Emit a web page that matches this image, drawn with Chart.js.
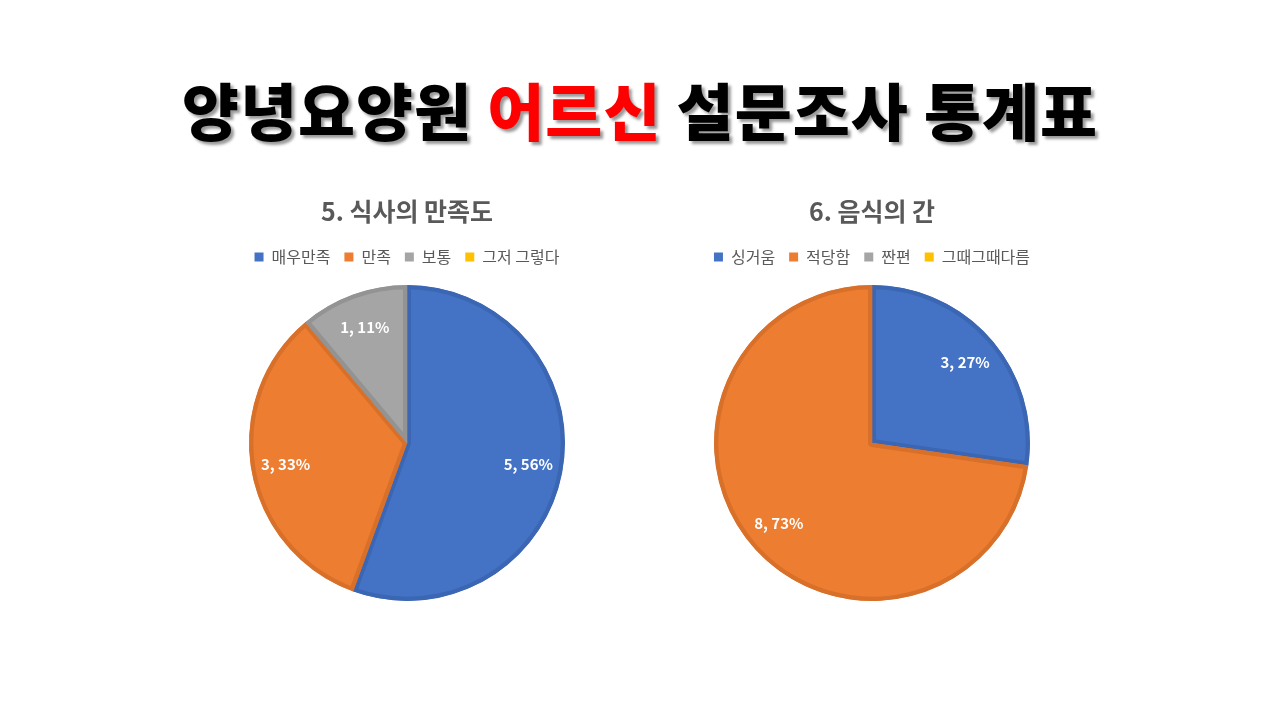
<!DOCTYPE html>
<html>
<head>
<meta charset="utf-8">
<script src="https://cdn.jsdelivr.net/npm/chart.js@4.4.1/dist/chart.umd.min.js"></script>
<style>
  body { margin: 0; width: 1280px; height: 720px; background: #fff; position: relative; overflow: hidden; }
  #title {
    position: absolute; left: 0; top: 64px; width: 1280px; text-align: center;
    font-family: "Noto Sans CJK KR", sans-serif; font-weight: 900; font-size: 62px;
    color: #000; text-shadow: 3px 3px 3px #999; letter-spacing: 1px;
  }
  #title span { color: #ff0000; }
  .box { position: absolute; top: 190px; width: 440px; height: 411px; }
</style>
</head>
<body>
<div id="title">양녕요양원 <span>어르신</span> 설문조사 통계표</div>
<div class="box" style="left:187px"><canvas id="pie1"></canvas></div>
<div class="box" style="left:652px"><canvas id="pie2"></canvas></div>
<script>
// 5. 식사의 만족도
title1 = '5. 식사의 만족도'
labels1 = ['매우만족', '만족', '보통', '그저 그렇다']
values1 = [5, 3, 1, 0]

// 6. 음식의 간
title2 = '6. 음식의 간'
labels2 = ['싱거움', '적당함', '짠편', '그때그때다름']
values2 = [3, 8, 0, 0]

fills = ['#4472C4', '#ED7D31', '#A5A5A5', '#FFC000']
borders = ['#3B66B3', '#D8702A', '#939393', '#E5AC00']
fontName = '"Noto Sans CJK KR", "Noto Sans", sans-serif'
legendGap = 10

// 조각 안에 "값, 퍼센트" 라벨 그리기
var sliceLabels = {
    id: 'sliceLabels',
    afterDatasetsDraw: function (chart) {
        var ctx = chart.ctx
        var data = chart.data.datasets[0].data
        var total = data.reduce(function (a, b) { return a + b }, 0)
        chart.getDatasetMeta(0).data.forEach(function (arc, i) {
            if (!data[i]) return
            var mid = (arc.startAngle + arc.endAngle) / 2
            var r = arc.outerRadius * 0.78
            var x = arc.x + Math.cos(mid) * r
            var y = arc.y + Math.sin(mid) * r
            ctx.save()
            ctx.fillStyle = '#fff'
            ctx.font = 'bold 15px ' + fontName
            ctx.textAlign = 'center'
            ctx.textBaseline = 'middle'
            ctx.fillText(data[i] + ', ' + Math.round(data[i] / total * 100) + '%', x, y)
            ctx.restore()
        })
    }
}

// 범례 아래 여백 조금 더
var legendSpace = {
    id: 'legendSpace',
    beforeInit: function (chart) {
        var fit = chart.legend.fit
        chart.legend.fit = function () {
            fit.bind(chart.legend)()
            this.height += legendGap
        }
    }
}

function makePie(id, title, labels, values) {
    new Chart(document.getElementById(id), {
        type: 'pie',
        data: {
            labels: labels,
            datasets: [{
                data: values,
                backgroundColor: fills,
                borderColor: borders,
                borderWidth: 4,
                borderAlign: 'inner'
            }]
        },
        options: {
            responsive: true,
            maintainAspectRatio: false,
            animation: false,
            events: [],
            plugins: {
                title: {
                    display: true,
                    text: title,
                    color: '#595959',
                    font: { family: fontName, size: 25, weight: 'bold' },
                    padding: { top: 6, bottom: 9 }
                },
                legend: {
                    position: 'top',
                    labels: {
                        color: '#595959',
                        font: { family: fontName, size: 16 },
                        boxWidth: 9,
                        boxHeight: 9,
                        padding: 14,
                        generateLabels: function (chart) {
                            var items = Chart.overrides.pie.plugins.legend.labels.generateLabels(chart)
                            items.forEach(function (it) { it.lineWidth = 0 })
                            return items
                        }
                    }
                },
                tooltip: { enabled: false }
            }
        },
        plugins: [sliceLabels, legendSpace]
    })
}

makePie('pie1', title1, labels1, values1)
makePie('pie2', title2, labels2, values2)
</script>
</body>
</html>
